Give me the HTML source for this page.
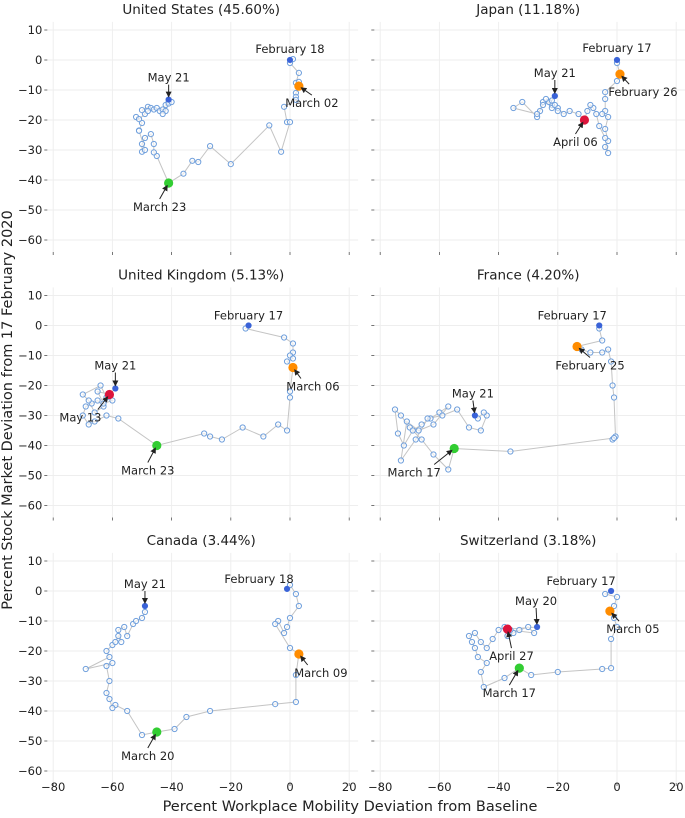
<!DOCTYPE html>
<html><head><meta charset="utf-8"><style>
html,body{margin:0;padding:0;background:#fff;}
svg{display:block;font-family:"DejaVu Sans","Liberation Sans",sans-serif;}
</style></head><body>
<svg id="chart" width="685" height="818" viewBox="0 0 685 818">
<defs><marker id="ah" markerWidth="6" markerHeight="6" refX="5" refY="3" orient="auto"><path d="M0,0 L6,3 L0,6 z" fill="#222"/></marker></defs>
<text x="350" y="811" font-size="14.5" text-anchor="middle" fill="#222">Percent Workplace Mobility Deviation from Baseline</text>
<text transform="translate(12,410) rotate(-90)" font-size="14.5" text-anchor="middle" fill="#222">Percent Stock Market Deviation from 17 February 2020</text>
</svg>
<script>
const xTicks=[-80,-60,-40,-20,0,20];
const yTicks=[10,0,-10,-20,-30,-40,-50,-60];
const titles=["United States (45.60%)","Japan (11.18%)","United Kingdom (5.13%)","France (4.20%)","Canada (3.44%)","Switzerland (3.18%)"];
const usX=[0,1,0,3,2,3,3,2,2,2,-2,-1,0,-3,-7,-20,-27,-31,-33,-36,-41,-45,-46,-46,-47,-49,-50,-50,-49,-51,-51,-50,-52,-51,-49,-50,-48,-47,-48,-46,-45,-44,-43,-42,-41,-42,-43,-41,-40,-41];
const usY=[0,0.3,-1,-4.3,-7.6,-7.3,-8.7,-11,-12.3,-13.3,-15.6,-20.7,-20.7,-30.6,-21.8,-34.7,-28.7,-34,-33.6,-37.9,-41,-32,-30.8,-28,-24.7,-26,-28,-30.6,-30,-23.5,-23.6,-21,-19,-19.7,-18,-16.7,-15.6,-16,-17,-16.5,-16,-17,-16.5,-15,-14,-17,-18,-14.5,-14,-13.2];
const jpX=[0,0,1,0,-4,-4,-4,-5,-3,-4,-3,-4,-3,-4,-6,-7,-8,-9,-10,-11,-13,-16,-18,-20,-20,-22,-25,-26,-27,-32,-35,-27,-25,-23,-22,-21,-24,-22,-21];
const jpY=[0,-1,-4.7,-7,-10.7,-13,-17,-18,-19,-23,-27,-29,-31,-26,-22,-18,-16,-15,-17,-20,-18,-17,-18,-16,-17,-15,-14,-17,-19,-14,-16,-18,-15,-14,-16,-15,-13,-13.5,-12];
const ukX=[-14,-15,-2,1,1,0,1,-1,1,0,0,-1,-4,-9,-16,-23,-27,-29,-45,-58,-62,-66,-68,-70,-69,-67,-65,-63,-66,-68,-70,-64,-62,-60,-63,-65,-61,-59];
const ukY=[0,-1,-4,-6,-9,-10,-11,-12,-14,-22,-24,-35,-33,-37,-34,-38,-37,-36,-40,-31,-30,-32,-33,-30,-27,-26,-25,-27,-29,-25,-23,-20,-24,-25,-26,-22,-23,-21];
const frX=[-6,-6,-5,-13.5,-12,-9,-5,-3,-2,-1.5,-1,-0.5,-1.5,-1,-36,-55,-57,-62,-66,-70,-73,-75,-74,-72,-69,-66,-63,-60,-57,-62,-67,-71,-73,-68,-64,-59,-54,-50,-46,-44,-45,-47,-48];
const frY=[0,-1,-5,-7,-8,-9,-9,-8,-12,-20,-24,-37,-38,-37.5,-42,-41,-48,-43,-38,-34,-30,-28,-36,-40,-35,-33,-31,-29,-27,-33,-35,-32,-45,-38,-31,-30,-28,-34,-35,-30,-29,-31,-30];
const caX=[-1,0,2,3,0,-1,-2,-4,-5,0,3,2,2,-5,-27,-35,-39,-45,-50,-55,-59,-60,-61,-62,-61,-62,-60,-69,-61,-62,-60,-59,-58,-57,-58,-56,-55,-53,-52,-50,-49,-49];
const caY=[0.7,2,-1,-5,-9,-12,-14,-10,-11,-19,-21,-28,-37,-37.7,-40,-42,-46,-47,-48,-40,-38,-39,-36,-34,-30,-25,-24,-26,-22,-20,-18,-17,-15,-17,-13,-12,-15,-11,-10,-9,-7,-5];
const chX=[-2,-4,0,-1,-2.4,-1,0,-2,-2,-5,-20,-29,-33,-38,-45,-46,-44,-47,-48,-49,-50,-48,-46,-44,-42,-40,-38,-37,-35,-33,-30,-28,-36,-37,-27];
const chY=[0,-1,-2,-5,-6.7,-9,-12,-16,-25.7,-26,-27,-28,-25.7,-29,-32,-27,-24,-22,-19,-17,-15,-14,-17,-19,-16,-13,-12,-15,-14,-13,-12,-14,-13,-12.7,-12];

const NS="http://www.w3.org/2000/svg";
const svg=document.getElementById('chart');
function mk(tag,attrs,parent){const e=document.createElementNS(NS,tag);for(const k in attrs)e.setAttribute(k,attrs[k]);(parent||svg).appendChild(e);return e;}
const zx=[290,617], zy=[60,325.5,591], sx=2.96, sy=3.0;
const panels=[
 {xs:usX,ys:usY,sp:[[6,'#ff8c00',4.6],[20,'#32cd32',4.6]],an:[["February 18",0,0,-7,false],["May 21",-1,0,-18,true],["March 02",6,13,21,true],["March 23",20,-9,28,true]]},
 {xs:jpX,ys:jpY,sp:[[2,'#ff8c00',4.6],[19,'#dc143c',4.6]],an:[["February 17",0,0,-8,false],["May 21",-1,0,-19,true],["February 26",2,23,22,true],["April 06",19,-9,26,true]]},
 {xs:ukX,ys:ukY,sp:[[8,'#ff8c00',4.6],[18,'#32cd32',4.6],[36,'#dc143c',4.6]],an:[["February 17",0,0,-6,false],["May 21",-1,0,-19,true],["March 06",8,20,23,true],["May 13",36,-29,27,true],["March 23",18,-9,29,true]]},
 {xs:frX,ys:frY,sp:[[3,'#ff8c00',4.6],[15,'#32cd32',4.6]],an:[["February 17",0,-27,-6,false],["February 25",3,13,23,true],["May 21",-1,-2,-18,true],["March 17",15,-40,28,true]]},
 {xs:caX,ys:caY,sp:[[10,'#ff8c00',4.6],[17,'#32cd32',4.6]],an:[["February 18",0,-28,-6,false],["May 21",-1,0,-18,true],["March 09",10,22,23,true],["March 20",17,-9,28,true]]},
 {xs:chX,ys:chY,sp:[[4,'#ff8c00',4.6],[12,'#32cd32',4.6],[33,'#dc143c',4.6]],an:[["February 17",0,-30,-6,false],["May 20",-1,-1,-22,true],["March 05",4,23,22,true],["April 27",33,4,31,true],["March 17",12,-10,29,true]]}
];
panels.forEach((p,i)=>{
 const col=i%2,row=Math.floor(i/2);
 const X=v=>zx[col]+v*sx, Y=v=>zy[row]-v*sy;
 const g=mk('g',{});
 
 
 const left=X(-83),right=X(23),top=Y(12.7),bot=Y(-64);
 xTicks.forEach(t=>{const l=mk('line',{x1:X(t),x2:X(t),y1:top,y2:bot,stroke:'#eeeeee','stroke-width':1},g);
  
  mk('line',{x1:X(t),x2:X(t),y1:bot,y2:bot+3,stroke:'#555','stroke-width':0.8},g);
  if(row===2){const tx=mk('text',{x:X(t),y:bot+8,'font-size':11.5,'text-anchor':'middle',fill:'#222'},g);tx.textContent=(t<0?'\u2212'+(-t):t);
   }
 });
 yTicks.forEach(t=>{const l=mk('line',{x1:left,x2:right,y1:Y(t),y2:Y(t),stroke:'#eeeeee','stroke-width':1},g);
  
  mk('line',{x1:left,x2:left+3,y1:Y(t),y2:Y(t),stroke:'#555','stroke-width':0.8},g);
  if(col===0){const tx=mk('text',{x:left-2,y:Y(t)+4,'font-size':11.5,'text-anchor':'end',fill:'#222'},g);tx.textContent=(t<0?'\u2212'+(-t):t);
   }
 });
 const tt=mk('text',{x:(left+right)/2,y:zy[row]-46,'font-size':13.5,'text-anchor':'middle',fill:'#222'},g);
 tt.textContent=titles[i];
 
 const pts=p.xs.map((v,k)=>X(v).toFixed(1)+','+Y(p.ys[k]).toFixed(1)).join(' ');
 const pl=mk('polyline',{points:pts,fill:'none',stroke:'#c4c4c4','stroke-width':1},g);
 
 p.xs.forEach((v,k)=>{const c=mk('circle',{cx:X(v),cy:Y(p.ys[k]),r:2.6,fill:'#fff','fill-opacity':0.6,stroke:'#6f9fdc','stroke-width':1},g);
  });
 const n=p.xs.length;
 [[0,'#3a62d8',3],[n-1,'#3a62d8',3]].concat(p.sp).forEach(s=>{
  const c=mk('circle',{cx:X(p.xs[s[0]]),cy:Y(p.ys[s[0]]),r:s[2],fill:s[1]},g);
  });
 p.an.forEach(a=>{
  const idx=a[1]<0?n+a[1]:a[1];
  const px=X(p.xs[idx]),py=Y(p.ys[idx]);
  const tx=px+a[2],ty=py+a[3];
  const t=mk('text',{x:tx,y:ty,'font-size':11.5,'text-anchor':'middle',fill:'#222'},g);
  t.textContent=a[0];
  
  if(a[4]){
   let x0=tx,y0=a[3]>0?ty-12:ty+3;
   if(Math.abs(a[2])>15){x0=tx-Math.sign(a[2])*Math.min(20,Math.abs(a[2])*0.6);}
   const dx=px-x0,dy=py-y0,d=Math.hypot(dx,dy)||1;
   const ar=mk('line',{x1:x0,y1:y0,x2:px-dx/d*3,y2:py-dy/d*3,stroke:'#222','stroke-width':1,'marker-end':'url(#ah)'},g);
   
  }
 });
});
</script>
</body></html>
